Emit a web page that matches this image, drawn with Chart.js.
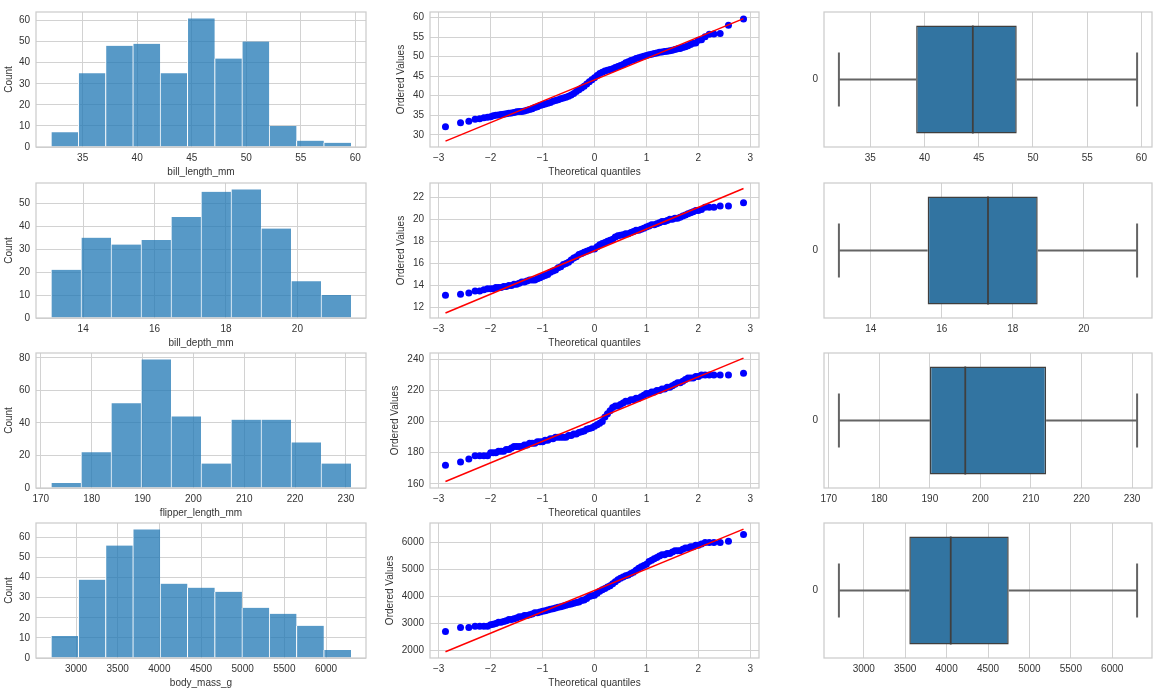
<!DOCTYPE html>
<html>
<head>
<meta charset="utf-8">
<script src="https://cdn.jsdelivr.net/npm/chart.js@4/dist/chart.umd.min.js"></script>
<style>
  html, body { margin: 0; padding: 0; background: #fff; }
  #fig { position: relative; width: 1160px; height: 694px; overflow: hidden; }
  #fig canvas { position: absolute; }
</style>
</head>
<body>
<div id="fig"></div>
<script>
// --- data ---
const variables = ['bill_length_mm', 'bill_depth_mm', 'flipper_length_mm', 'body_mass_g'];

// histogram bin edges and counts
const billLengthEdges = [32.1, 34.6, 37.1, 39.6, 42.1, 44.6, 47.1, 49.6, 52.1, 54.6, 57.1, 59.6];
const billLengthCounts = [7, 35, 48, 49, 35, 61, 42, 50, 10, 3, 2];
const billDepthEdges = [13.1, 13.94, 14.78, 15.62, 16.46, 17.3, 18.14, 18.98, 19.82, 20.66, 21.5];
const billDepthCounts = [21, 35, 32, 34, 44, 55, 56, 39, 16, 10];
const flipperEdges = [172, 177.9, 183.8, 189.7, 195.6, 201.5, 207.4, 213.3, 219.2, 225.1, 231];
const flipperCounts = [3, 22, 52, 79, 44, 15, 42, 42, 28, 15];
const bodyMassEdges = [2700, 3027.3, 3354.5, 3681.8, 4009.1, 4336.4, 4663.6, 4990.9, 5318.2, 5645.5, 5972.7, 6300];
const bodyMassCounts = [11, 39, 56, 64, 37, 35, 33, 25, 22, 16, 4];

// x limits shared by histogram and box plot, count axis limits
const billLengthRange = [30.725, 60.975];
const billDepthRange = [12.68, 21.92];
const flipperRange = [169.05, 233.95];
const bodyMassRange = [2520, 6480];
const countMax = [64.05, 58.8, 82.95, 67.2];

// tick labels
const billLengthTicks = [35, 40, 45, 50, 55, 60];
const billDepthTicks = [14, 16, 18, 20];
const flipperTicks = [170, 180, 190, 200, 210, 220, 230];
const bodyMassTicks = [3000, 3500, 4000, 4500, 5000, 5500, 6000];
const countTicks = [
  [0, 10, 20, 30, 40, 50, 60],
  [0, 10, 20, 30, 40, 50],
  [0, 20, 40, 60, 80],
  [0, 10, 20, 30, 40, 50, 60],
];
const qqXTicks = [-3, -2, -1, 0, 1, 2, 3];
const qqYTicks = [
  [30, 35, 40, 45, 50, 55, 60],
  [12, 14, 16, 18, 20, 22],
  [160, 180, 200, 220, 240],
  [2000, 3000, 4000, 5000, 6000],
];
const qqXRange = [-3.168, 3.168];
const qqYRange = [[26.9, 61.4], [11.04, 23.3], [157.3, 244.1], [1720, 6727]];

// probability plots: theoretical quantiles and ordered values
const theoQuantiles = [-2.87, -2.58, -2.42, -2.30, -2.21, -2.13, -2.06,
  -2.0, -1.95, -1.9, -1.85, -1.8, -1.75, -1.7, -1.65, -1.6, -1.55,
  -1.5, -1.45, -1.4, -1.35, -1.3, -1.25, -1.2, -1.15, -1.1, -1.05,
  -1.0, -0.95, -0.9, -0.85, -0.8, -0.75, -0.7, -0.65,
  -0.6, -0.55, -0.5, -0.45, -0.4, -0.35, -0.3, -0.25, -0.2, -0.15, -0.1, -0.05, 0,
  0.05, 0.1, 0.15, 0.2, 0.25, 0.3, 0.35, 0.4, 0.45, 0.5, 0.55, 0.6,
  0.65, 0.7, 0.75, 0.8, 0.85, 0.9, 0.95, 1.0, 1.05, 1.1,
  1.15, 1.2, 1.25, 1.3, 1.35, 1.4, 1.45, 1.5, 1.55, 1.6,
  1.65, 1.7, 1.75, 1.8, 1.85, 1.9, 1.95, 2.0,
  2.06, 2.13, 2.21, 2.30, 2.42, 2.58, 2.87];
const billLengthQQ = [32.1, 33.1, 33.5, 34.0, 34.1, 34.4, 34.5,
  34.6, 34.9, 35.0, 35.1, 35.2, 35.3, 35.4, 35.5, 35.6, 35.7,
  35.9, 36.0, 36.0, 36.1, 36.3, 36.5, 36.7, 37.0, 37.2, 37.5,
  37.7, 37.9, 38.1, 38.3, 38.6, 38.8, 39.0, 39.2,
  39.4, 39.6, 39.9, 40.2, 40.6, 41.1, 41.5, 42.0, 42.4, 43.0, 43.6, 44.1, 44.6,
  45.2, 45.7, 46.0, 46.3, 46.5, 46.7, 46.9, 47.2, 47.5, 47.7, 48.0, 48.4,
  48.7, 49.0, 49.2, 49.5, 49.7, 49.9, 50.1, 50.3, 50.5, 50.6,
  50.8, 50.9, 51.1, 51.2, 51.3, 51.4, 51.5, 51.6, 51.8, 52.0,
  52.1, 52.3, 52.5, 52.8, 53.1, 53.4, 53.5, 54.2,
  54.3, 55.1, 55.7, 55.8, 55.9, 58.0, 59.6];
const billDepthQQ = [13.1, 13.2, 13.3, 13.5, 13.5, 13.6, 13.7,
  13.7, 13.7, 13.8, 13.8, 13.8, 13.9, 13.9, 14.0, 14.0, 14.1,
  14.1, 14.2, 14.3, 14.3, 14.4, 14.5, 14.5, 14.5, 14.6, 14.7,
  14.8, 14.9, 15.0, 15.2, 15.3, 15.4, 15.6, 15.7,
  15.9, 16.0, 16.1, 16.3, 16.5, 16.6, 16.8, 16.9, 17.0, 17.1, 17.2, 17.3, 17.3,
  17.5, 17.7, 17.8, 17.9, 18.0, 18.1, 18.2, 18.4, 18.5, 18.55, 18.6, 18.7,
  18.7, 18.8, 18.9, 19.0, 19.0, 19.1, 19.2, 19.3, 19.4, 19.5,
  19.5, 19.6, 19.7, 19.8, 19.8, 19.9, 20.0, 20.0, 20.1, 20.1,
  20.2, 20.3, 20.4, 20.5, 20.6, 20.7, 20.8, 20.8,
  20.9, 21.1, 21.1, 21.1, 21.2, 21.2, 21.5];
const flipperQQ = [172, 174, 176, 178, 178, 178, 178,
  180, 180, 180, 181, 181, 181, 182, 182, 183, 184,
  184, 184, 184, 185, 185, 186, 186, 186, 187, 187,
  187, 188, 188, 189, 189, 190, 190, 190,
  190, 190, 191, 191, 192, 192, 193, 193.5, 194, 195, 195.5, 196, 197,
  198, 199, 200, 203, 205, 207, 209, 210, 210, 211, 212, 213,
  213, 214, 214, 215, 215, 216, 217, 218, 218, 219,
  219, 220, 220, 221, 221, 222, 222, 223, 224, 225,
  225, 226, 227, 228, 228, 228, 229, 229,
  230, 230, 230, 230, 230, 230, 231];
const bodyMassQQ = [2700, 2850, 2850, 2900, 2900, 2900, 2900,
  2950, 2975, 3000, 3050, 3050, 3075, 3100, 3150, 3150, 3175,
  3200, 3250, 3250, 3300, 3300, 3325, 3350, 3400, 3400, 3425,
  3450, 3475, 3500, 3525, 3550, 3575, 3600, 3625,
  3650, 3675, 3700, 3725, 3750, 3775, 3800, 3850, 3875, 3925, 4000, 4025, 4050,
  4125, 4200, 4250, 4300, 4350, 4400, 4475, 4550, 4625, 4675, 4725, 4775,
  4800, 4850, 4900, 4975, 5050, 5100, 5150, 5200, 5300, 5350,
  5400, 5450, 5500, 5550, 5550, 5600, 5600, 5650, 5700, 5700,
  5700, 5750, 5800, 5800, 5850, 5850, 5900, 5900,
  5950, 6000, 6000, 6000, 6000, 6050, 6300];

// fitted line end points
const fitX = [-2.87, 2.87];
const billLengthFit = [28.4, 59.7];
const billDepthFit = [11.5, 22.8];
const flipperFit = [161.5, 240.8];
const bodyMassFit = [1950, 6500];

// box plots: [whisker low, Q1, median, Q3, whisker high]
const billLengthBox = [32.1, 39.225, 44.45, 48.5, 59.6];
const billDepthBox = [13.1, 15.6, 17.3, 18.7, 21.5];
const flipperBox = [172, 190, 197, 213, 231];
const bodyMassBox = [2700, 3550, 4050, 4750, 6300];

// --- layout / style ---
const FONT = { family: '"Liberation Sans", Arial, sans-serif', size: 10 };
const TEXT = '#333333';
const GRID = '#d2d2d2';
const SPINE = '#cccccc';
const BOX_EDGE = '#3f3f3f';
const WHISKER = '#646464';

const COL_X = [0, 380, 790];       // canvas left edge per column
const AXIS_W = [36, 50, 34];       // room for the y axis
const PLOT_R = [366, 759, 1152];   // right edge of each plot area
const ROW_Y = [5, 176, 346, 516];  // top edge of each plot area
const PLOT_H = 142;
const PAD_TOP = 5;
const PAD_RIGHT = 4;
const X_AXIS_H = 34;
const COUNT_TITLE_PAD = 3;
const QQ_TITLE_PAD = [15.7, 15.7, 9, 4.7];

const fmtTick = (v) => (v < 0 ? '\u2212' + Math.abs(v) : String(v));

const framePlugin = {
  id: 'frame',
  beforeDraw(chart) {
    const { ctx, chartArea: a } = chart;
    ctx.save();
    ctx.fillStyle = '#ffffff';
    ctx.fillRect(a.left, a.top, a.right - a.left, a.bottom - a.top);
    ctx.restore();
  },
  afterDatasetsDraw(chart) {
    const { ctx, chartArea: a } = chart;
    ctx.save();
    ctx.strokeStyle = SPINE;
    ctx.lineWidth = 1.25;
    ctx.strokeRect(a.left, a.top, a.right - a.left, a.bottom - a.top);
    ctx.restore();
  },
};

function makeCanvas(col, row) {
  const c = document.createElement('canvas');
  const w = PLOT_R[col] - COL_X[col] + PAD_RIGHT;
  const h = PAD_TOP + PLOT_H + X_AXIS_H;
  c.width = w;
  c.height = h;
  c.style.left = COL_X[col] + 'px';
  c.style.top = (ROW_Y[row] - PAD_TOP) + 'px';
  c.style.width = w + 'px';
  c.style.height = h + 'px';
  document.getElementById('fig').appendChild(c);
  return c;
}

function axis(range, ticks, opts = {}) {
  const horizontal = !!opts.horizontal;
  const title = opts.title
    ? { display: true, text: opts.title, color: TEXT, font: FONT, padding: horizontal ? { top: 0, bottom: 3 } : { top: opts.titlePad, bottom: 0 } }
    : { display: false };
  return {
    type: 'linear',
    min: range[0],
    max: range[1],
    offset: false,
    afterBuildTicks: (s) => { s.ticks = ticks.map((v) => ({ value: v })); },
    afterFit: (s) => {
      if (horizontal) s.height = X_AXIS_H;
      else s.width = opts.width;
    },
    grid: { display: opts.grid !== false, color: GRID, lineWidth: 1, drawTicks: false, offset: false },
    border: { display: false },
    ticks: { padding: horizontal ? 5 : 6, color: TEXT, font: FONT, autoSkip: false, maxRotation: 0, callback: fmtTick },
    title,
  };
}

function baseOptions(x, y) {
  return {
    responsive: false,
    animation: false,
    devicePixelRatio: 1,
    events: [],
    layout: { padding: { top: PAD_TOP, right: PAD_RIGHT, left: 0, bottom: 0 } },
    plugins: { legend: { display: false }, tooltip: { enabled: false } },
    scales: { x, y },
  };
}

function drawHist(row, r) {
  const data = r.counts.map((c, i) => ({ x: (r.edges[i] + r.edges[i + 1]) / 2, y: c }));
  new Chart(makeCanvas(0, row), {
    type: 'bar',
    data: {
      datasets: [{
        data,
        backgroundColor: 'rgba(31, 119, 180, 0.75)',
        borderColor: '#ffffff',
        borderWidth: { left: 1, right: 0, top: 0, bottom: 0 },
        borderSkipped: false,
        categoryPercentage: 1,
        barPercentage: 1,
      }],
    },
    options: baseOptions(
      axis(r.range, r.ticks, { horizontal: true, title: r.name }),
      axis([0, countMax[row]], countTicks[row], { width: AXIS_W[0], title: 'Count', titlePad: COUNT_TITLE_PAD }),
    ),
    plugins: [framePlugin],
  });
}

function drawQQ(row, r) {
  const pts = theoQuantiles.map((x, i) => ({ x, y: r.qq[i] }));
  const line = fitX.map((x, i) => ({ x, y: r.fit[i] }));
  new Chart(makeCanvas(1, row), {
    type: 'scatter',
    data: {
      datasets: [
        { data: line, showLine: true, borderColor: '#ff0000', borderWidth: 1.5, pointRadius: 0 },
        { data: pts, pointRadius: 3.5, pointBackgroundColor: '#0000ff', pointBorderWidth: 0 },
      ],
    },
    options: baseOptions(
      axis(qqXRange, qqXTicks, { horizontal: true, title: 'Theoretical quantiles' }),
      axis(qqYRange[row], qqYTicks[row], { width: AXIS_W[1], title: 'Ordered Values', titlePad: QQ_TITLE_PAD[row] }),
    ),
    plugins: [framePlugin],
  });
}

function drawBox(row, r) {
  const [lo, q1, med, q3, hi] = r.box;
  const seg = (pts, color, width) => ({
    type: 'line',
    data: pts.map(([x, y]) => ({ x, y })),
    borderColor: color,
    borderWidth: width,
    pointRadius: 0,
    fill: false,
  });
  new Chart(makeCanvas(2, row), {
    type: 'bar',
    data: {
      datasets: [
        seg([[med, -0.4], [med, 0.4]], BOX_EDGE, 1.8),
        seg([[lo, 0], [q1, 0]], WHISKER, 2),
        seg([[q3, 0], [hi, 0]], WHISKER, 2),
        seg([[lo, -0.2], [lo, 0.2]], WHISKER, 2),
        seg([[hi, -0.2], [hi, 0.2]], WHISKER, 2),
        {
          type: 'bar',
          indexAxis: 'y',
          data: [{ x: [q1, q3], y: 0 }],
          backgroundColor: '#3274a1',
          borderColor: BOX_EDGE,
          borderWidth: 1.5,
          borderSkipped: false,
          categoryPercentage: 0.8,
          barPercentage: 1,
        },
      ],
    },
    options: baseOptions(
      axis(r.range, r.ticks, { horizontal: true }),
      axis([-0.5, 0.5], [0], { width: AXIS_W[2], grid: false }),
    ),
    plugins: [framePlugin],
  });
}

const rows = [
  { name: variables[0], edges: billLengthEdges, counts: billLengthCounts, range: billLengthRange, ticks: billLengthTicks, qq: billLengthQQ, fit: billLengthFit, box: billLengthBox },
  { name: variables[1], edges: billDepthEdges, counts: billDepthCounts, range: billDepthRange, ticks: billDepthTicks, qq: billDepthQQ, fit: billDepthFit, box: billDepthBox },
  { name: variables[2], edges: flipperEdges, counts: flipperCounts, range: flipperRange, ticks: flipperTicks, qq: flipperQQ, fit: flipperFit, box: flipperBox },
  { name: variables[3], edges: bodyMassEdges, counts: bodyMassCounts, range: bodyMassRange, ticks: bodyMassTicks, qq: bodyMassQQ, fit: bodyMassFit, box: bodyMassBox },
];

rows.forEach((r, i) => {
  drawHist(i, r);
  drawQQ(i, r);
  drawBox(i, r);
});
</script>
</body>
</html>
